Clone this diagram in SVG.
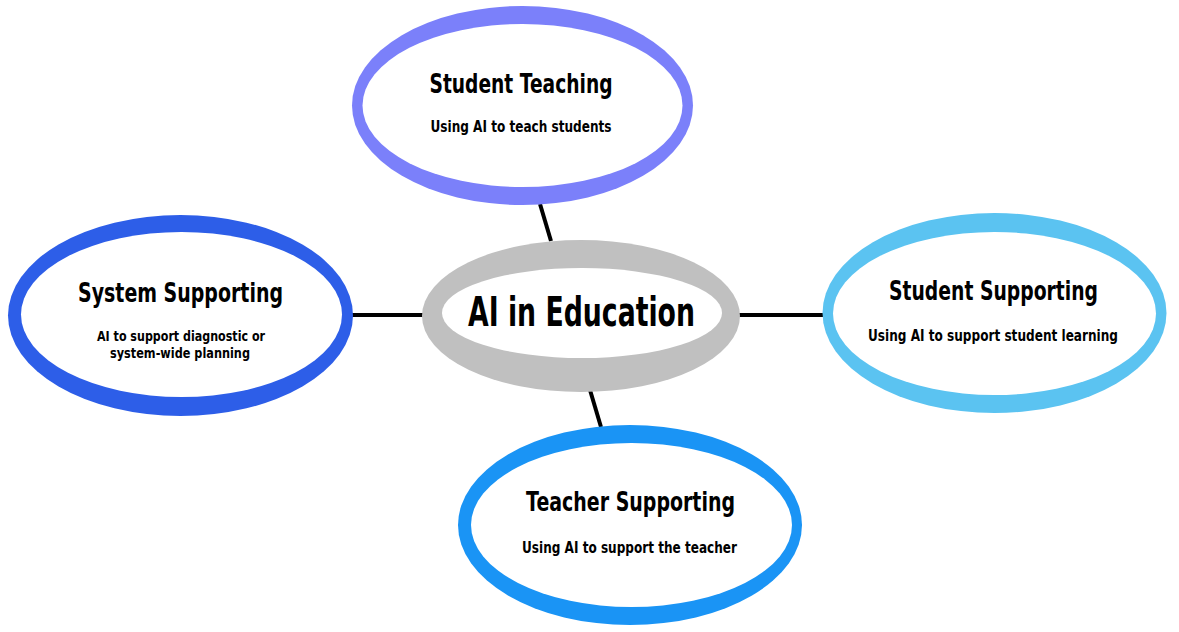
<svg xmlns="http://www.w3.org/2000/svg" width="1179" height="632" viewBox="0 0 1179 632">
<style>
.bg{fill:#ffffff}
.inner{fill:#ffffff}
.conn{stroke:#000000;stroke-width:4;fill:none;stroke-linecap:butt}
text{font-family:"DejaVu Sans","Liberation Sans",sans-serif;font-weight:bold;fill:#000000;text-anchor:middle}
.title{font-size:26px}
.sub{font-size:15px}
.sub2{font-size:14px}
.main{font-size:40px}
</style>
<rect class="bg" x="0" y="0" width="1179" height="632"/>
<g id="connectors">
<line class="conn" x1="540" y1="204" x2="551" y2="241"/>
<line class="conn" x1="590" y1="390" x2="601" y2="427"/>
<line class="conn" x1="352" y1="315" x2="423" y2="315"/>
<line class="conn" x1="739" y1="315" x2="824" y2="315"/>
</g>
<g id="student-teaching">
<ellipse cx="522.5" cy="105.5" rx="170.5" ry="99.5" fill="#7B80FA"/>
<ellipse class="inner" cx="522.5" cy="105.5" rx="160" ry="81.5"/>
<text class="title" x="521" y="93" textLength="183" lengthAdjust="spacingAndGlyphs">Student Teaching</text>
<text class="sub" x="521" y="132" textLength="181" lengthAdjust="spacingAndGlyphs">Using AI to teach students</text>
</g>
<g id="system-supporting">
<ellipse cx="180.5" cy="315.5" rx="172.5" ry="100.5" fill="#2D5EE8"/>
<ellipse class="inner" cx="181.5" cy="314.5" rx="160.5" ry="82.5"/>
<text class="title" x="180.5" y="302" textLength="205" lengthAdjust="spacingAndGlyphs">System Supporting</text>
<text class="sub2" x="181" y="341" textLength="168" lengthAdjust="spacingAndGlyphs">AI to support diagnostic or</text>
<text class="sub2" x="180" y="358" textLength="140" lengthAdjust="spacingAndGlyphs">system-wide planning</text>
</g>
<g id="ai-in-education">
<ellipse cx="581" cy="316" rx="159" ry="76" fill="#C0C0C0"/>
<ellipse class="inner" cx="582" cy="313" rx="140" ry="45"/>
<text class="main" x="581.5" y="326" textLength="227" lengthAdjust="spacingAndGlyphs">AI in Education</text>
</g>
<g id="student-supporting">
<ellipse cx="994.5" cy="313" rx="172" ry="100" fill="#5BC3F1"/>
<ellipse class="inner" cx="994.5" cy="313.5" rx="161.5" ry="81.5"/>
<text class="title" x="993.5" y="300" textLength="209" lengthAdjust="spacingAndGlyphs">Student Supporting</text>
<text class="sub" x="993" y="341" textLength="250" lengthAdjust="spacingAndGlyphs">Using AI to support student learning</text>
</g>
<g id="teacher-supporting">
<ellipse cx="630" cy="525" rx="172" ry="100" fill="#1A94F5"/>
<ellipse class="inner" cx="631.5" cy="525" rx="160.5" ry="82"/>
<text class="title" x="630.5" y="511" textLength="209" lengthAdjust="spacingAndGlyphs">Teacher Supporting</text>
<text class="sub" x="629.5" y="553" textLength="215" lengthAdjust="spacingAndGlyphs">Using AI to support the teacher</text>
</g>
</svg>
